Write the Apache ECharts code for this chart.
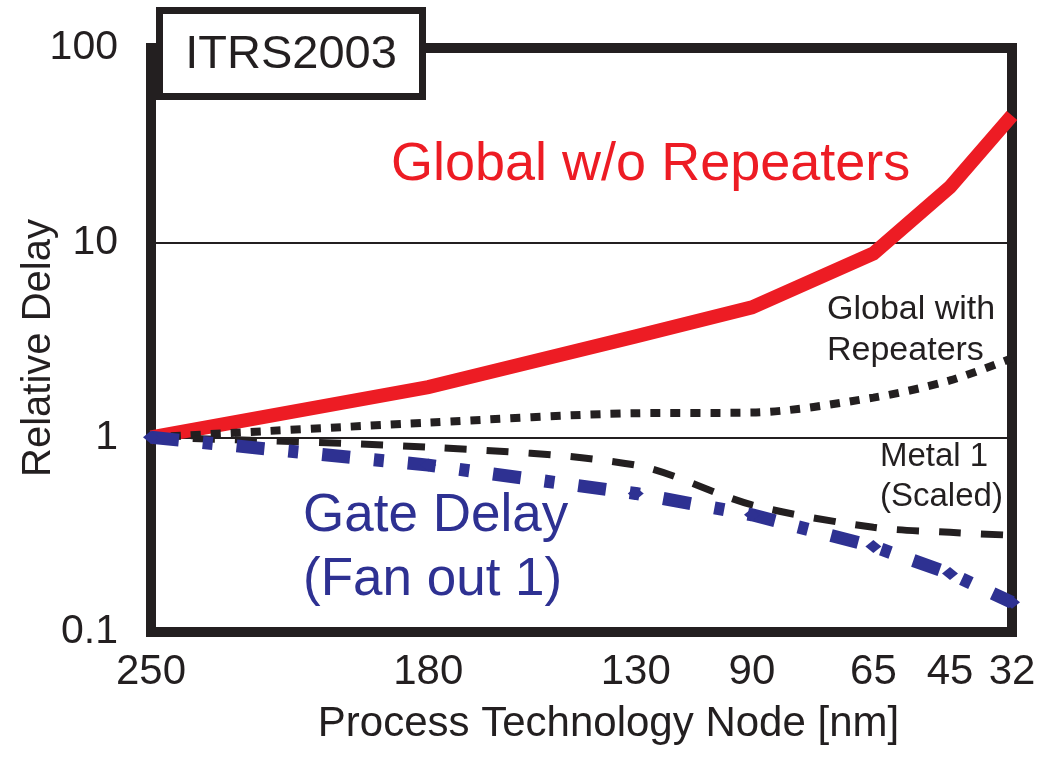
<!DOCTYPE html>
<html>
<head>
<meta charset="utf-8">
<script src="https://cdn.jsdelivr.net/npm/echarts@6/dist/echarts.min.js"></script>
<style>
  html, body { margin: 0; padding: 0; background: #ffffff; }
  #chart { width: 1042px; height: 767px; }
</style>
</head>
<body>
<div id="chart"></div>
<script>
// ---- data ----
const nodeLabels = ['250', '180', '130', '90', '65', '45', '32'];
// horizontal placement of each node along the (non-uniform) x axis, in axis units 0..100
const nodePos = [0, 32.2, 56.3, 69.8, 83.9, 92.8, 100];
const globalNoRepeaters = [1, 1.81, 3.3, 4.65, 8.8, 19.3, 45];
const globalWithRepeaters = [1, 1.19, 1.33, 1.34, 1.6, 1.96, 2.55];
const metal1Scaled = [1, 0.89, 0.72, 0.45, 0.345, 0.325, 0.314];
const gateDelay = [1, 0.72, 0.515, 0.40, 0.275, 0.20, 0.142];
const yMin = 0.1, yMax = 100;

const FONT = "'Liberation Sans', Arial, Helvetica, sans-serif";
const INK = '#231f20';
const RED = '#ed1c24';
const BLUE = '#2e3192';

function pts(vals) { return vals.map((v, i) => [nodePos[i], v]); }

const chart = echarts.init(document.getElementById('chart'), null, { renderer: 'canvas' });

chart.setOption({
  animation: false,
  backgroundColor: '#ffffff',
  textStyle: { fontFamily: FONT },
  grid: {
    left: 151, right: 30, top: 48, bottom: 135,
    outerBoundsMode: 'none', containLabel: false,
    show: true, borderWidth: 10, borderColor: INK, backgroundColor: 'transparent'
  },
  xAxis: {
    type: 'value', min: 0, max: 100,
    name: 'Process Technology Node [nm]',
    nameLocation: 'middle', nameGap: 71, nameMoveOverlap: false,
    nameTextStyle: { fontSize: 42, color: INK, fontFamily: FONT, padding: [0, 0, 0, 54] },
    axisLine: { show: false },
    axisTick: { show: false },
    splitLine: { show: false },
    axisLabel: {
      customValues: nodePos,
      margin: 19,
      fontSize: 42, color: INK, fontFamily: FONT,
      formatter: function (v) {
        const i = nodePos.indexOf(v);
        return i >= 0 ? nodeLabels[i] : '';
      }
    }
  },
  yAxis: {
    type: 'log', logBase: 10, min: yMin, max: yMax,
    name: 'Relative Delay',
    nameLocation: 'middle', nameGap: 92, nameMoveOverlap: false,
    nameTextStyle: { fontSize: 40, color: INK, fontFamily: FONT, padding: [0, 16, 0, 0] },
    axisLine: { show: false },
    axisTick: { show: false },
    splitLine: { show: true, lineStyle: { color: INK, width: 2 } },
    axisLabel: {
      margin: 33, fontSize: 41, color: INK, fontFamily: FONT,
      formatter: function (v) { return String(+v.toPrecision(3)); }
    }
  },
  series: [
    {
      name: 'Global w/o Repeaters', type: 'line', data: pts(globalNoRepeaters),
      showSymbol: false, clip: false, z: 3,
      lineStyle: { color: RED, width: 14, join: 'miter' }
    },
    {
      name: 'Global with Repeaters', type: 'line', data: pts(globalWithRepeaters),
      showSymbol: false, clip: false, smooth: 0.3, z: 4,
      lineStyle: { color: INK, width: 8, type: [10, 10] }
    },
    {
      name: 'Metal 1 (Scaled)', type: 'line', data: pts(metal1Scaled),
      showSymbol: false, clip: false, smooth: 0.3, z: 5,
      lineStyle: { color: INK, width: 7, type: [22, 20] }
    },
    {
      name: 'Gate Delay (Fan out 1)', type: 'line', data: pts(gateDelay),
      symbol: 'diamond', symbolSize: [16, 13], showSymbol: true, clip: false, z: 6,
      itemStyle: { color: BLUE, borderWidth: 0 },
      lineStyle: { color: BLUE, width: 13, type: [28, 24, 10, 24] }
    }
  ],
  graphic: [
    {
      type: 'rect', z: 100,
      shape: { x: 159.5, y: 10.5, width: 263, height: 86 },
      style: { fill: '#ffffff', stroke: INK, lineWidth: 7 }
    },
    {
      type: 'text', z: 101, x: 291, y: 55,
      style: { text: 'ITRS2003', fill: INK, font: '47px ' + FONT, textAlign: 'center', textVerticalAlign: 'middle' }
    },
    {
      type: 'text', z: 101, x: 391, y: 165,
      style: { text: 'Global w/o Repeaters', fill: RED, font: '54px ' + FONT, textAlign: 'left', textVerticalAlign: 'middle' }
    },
    {
      type: 'text', z: 101, x: 827, y: 310,
      style: { text: 'Global with', fill: INK, font: '34px ' + FONT, textAlign: 'left', textVerticalAlign: 'middle' }
    },
    {
      type: 'text', z: 101, x: 827, y: 351,
      style: { text: 'Repeaters', fill: INK, font: '34px ' + FONT, textAlign: 'left', textVerticalAlign: 'middle' }
    },
    {
      type: 'text', z: 101, x: 880, y: 457,
      style: { text: 'Metal 1', fill: INK, font: '33px ' + FONT, textAlign: 'left', textVerticalAlign: 'middle' }
    },
    {
      type: 'text', z: 101, x: 880, y: 497,
      style: { text: '(Scaled)', fill: INK, font: '33px ' + FONT, textAlign: 'left', textVerticalAlign: 'middle' }
    },
    {
      type: 'text', z: 101, x: 303, y: 516,
      style: { text: 'Gate Delay', fill: BLUE, font: '53px ' + FONT, textAlign: 'left', textVerticalAlign: 'middle' }
    },
    {
      type: 'text', z: 101, x: 303, y: 580,
      style: { text: '(Fan out 1)', fill: BLUE, font: '53px ' + FONT, textAlign: 'left', textVerticalAlign: 'middle' }
    }
  ]
});
</script>
</body>
</html>
